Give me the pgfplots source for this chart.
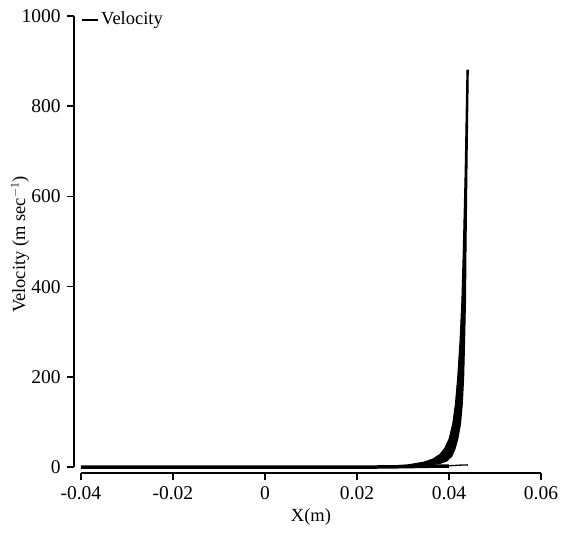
\documentclass[border=0pt]{standalone}
\usepackage{fontspec}
\setmainfont{Liberation Serif}
\usepackage{pgfplots}
\pgfplotsset{compat=1.18}
\begin{document}
\fontsize{18.5}{22}\selectfont
\begin{tikzpicture}
\begin{axis}[
  scale only axis,
  width=467pt, height=457pt,
  xmin=-0.0415, xmax=0.06,
  ymin=-13, ymax=1000,
  axis x line*=bottom, axis y line*=left,
  axis line style={draw=none},
  tick align=outside,
  major tick length=7pt,
  tick style={black, line width=1.6pt},
  xtick={-0.04,-0.02,0,0.02,0.04,0.06},
  xticklabels={-0.04,-0.02,0,0.02,0.04,0.06},
  ytick={0,200,400,600,800,1000},
  yticklabels={0,200,400,600,800,1000},
  scaled x ticks=false,
  ticklabel style={font=\fontsize{19.5}{22}\selectfont},
  every axis y label/.style={at={(rel axis cs:0,0.5)}, xshift=-54pt, rotate=90, anchor=center, font=\fontsize{18.5}{22}\selectfont},
  every axis x label/.style={at={(axis cs:0.01,-13)}, yshift=-44pt, anchor=center, font=\fontsize{18.5}{22}\selectfont},
  xlabel={X(m)},
  ylabel={Velocity (m sec$^{-1}$)},
  legend style={at={(rel axis cs:0.015,1.014)}, anchor=north west, draw=none, fill=none, font=\fontsize{18.5}{22}\selectfont, inner sep=0pt},
  legend cell align=left,
  legend image code/.code={\draw[line width=2pt] (0pt,0pt) -- (16pt,0pt);},
  clip=false,
]
\addplot[black, line width=3.5pt] coordinates {
(-0.04,0) (0.022,0) (0.030,1) (0.036,2) (0.040,2)
};
\addlegendentry{Velocity}
\addplot[black, fill=black, line width=1pt, line join=round, forget plot] coordinates {
(0.022,0) (0.027,2) (0.031,5) (0.0345,11) (0.0365,18) (0.0380,28) (0.0391,42) (0.0400,62) (0.0408,95) (0.0414,140) (0.0419,200) (0.0424,280) (0.0428,370) (0.0431,480) (0.0435,650) (0.0439,880)
(0.0442,880) (0.0439,650) (0.0437,480) (0.0436,370) (0.0434,280) (0.0432,200) (0.0429,140) (0.0425,95) (0.0419,62) (0.0413,40) (0.0406,24) (0.0396,14) (0.0380,8) (0.036,5) (0.032,2.5) (0.028,1) (0.024,0)
} -- cycle;
\addplot[black, line width=1.3pt, forget plot] coordinates {
(0.036,2) (0.040,3) (0.0425,4.5) (0.0441,5)
};
\draw[line width=1.8pt] (axis cs:-0.0415,0) -- (axis cs:-0.0415,1000);
\draw[line width=1.8pt] (axis cs:-0.04,-13) -- (axis cs:0.06,-13);
\coordinate (ll) at (rel axis cs:0,0);
\coordinate (ur) at (rel axis cs:1,1);
\end{axis}
\pgfresetboundingbox
\path ([shift={(-74pt,-60pt)}]ll) rectangle ([shift={(20pt,16pt)}]ur);
\end{tikzpicture}
\end{document}
